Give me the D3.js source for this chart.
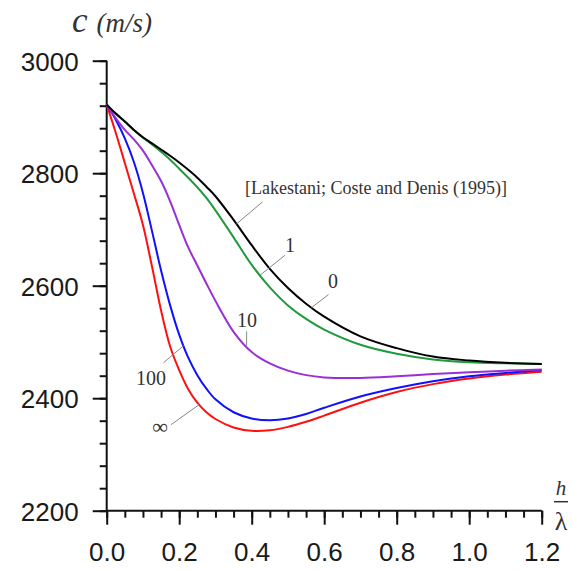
<!DOCTYPE html>
<html>
<head>
<meta charset="utf-8">
<script src="https://cdn.jsdelivr.net/npm/d3@7"></script>
<style>
  html, body { margin: 0; padding: 0; background: #fff; }
  svg { display: block; }
</style>
</head>
<body>
<svg id="chart" width="573" height="570"></svg>
<script>
// ---- data ----
const hGrid     = [0, 0.025, 0.05, 0.075, 0.1, 0.125, 0.15, 0.175, 0.2, 0.225, 0.25, 0.275, 0.3, 0.35, 0.4, 0.45, 0.5, 0.55, 0.6, 0.7, 0.8, 0.9, 1.0, 1.1, 1.2];
const series0   = [2922, 2906, 2892, 2877, 2864, 2853, 2842, 2831, 2819, 2806, 2792, 2776, 2759, 2717, 2672, 2630, 2596, 2568, 2545, 2510, 2489, 2474, 2467, 2463, 2461];
const series1   = [2922, 2906, 2892, 2877, 2863, 2851, 2838, 2824, 2808, 2792, 2775, 2756, 2734, 2686, 2637, 2597, 2565, 2541, 2522, 2495, 2479, 2469, 2464, 2462, 2461];
const series10  = [2922, 2898, 2877, 2860, 2840, 2814, 2786, 2750, 2708, 2668, 2636, 2604, 2573, 2518, 2482, 2462, 2449, 2441, 2437, 2436, 2439, 2443, 2446, 2449, 2451];
const series100 = [2922, 2895, 2862, 2820, 2765, 2697, 2627, 2565, 2513, 2472, 2441, 2417, 2398, 2375, 2364, 2361, 2364, 2372, 2383, 2403, 2418, 2430, 2439, 2445, 2450];
const seriesInf = [2922, 2872, 2818, 2764, 2708, 2634, 2556, 2492, 2450, 2416, 2392, 2375, 2363, 2348, 2342, 2343, 2349, 2358, 2369, 2392, 2411, 2425, 2435, 2442, 2447];
const seriesNames  = ["0", "1", "10", "100", "∞"];
const seriesColors = ["#000000", "#1f9a3c", "#9a2fd6", "#1010ff", "#ff1010"];
const xTickValues = [0, 0.2, 0.4, 0.6, 0.8, 1.0, 1.2];
const yTickValues = [2200, 2400, 2600, 2800, 3000];

const allSeries = [series0, series1, series10, series100, seriesInf];

const svg = d3.select("#chart");
const L = 106.7, R = 541.7, T = 60.7, B = 510.7;

const x = d3.scaleLinear().domain([0, 1.2]).range([L, R]);
const y = d3.scaleLinear().domain([2200, 3000]).range([B, T]);

const tickFont = "'Liberation Sans', Arial, sans-serif";
const serif = "'Liberation Serif', 'Times New Roman', 'DejaVu Serif', serif";

// minor ticks
const gxMinor = svg.append("g").attr("transform", `translate(0,${B})`)
  .call(d3.axisBottom(x).tickValues(d3.range(0, 1.2001, 0.05)).tickSize(7).tickFormat(""));
const gyMinor = svg.append("g").attr("transform", `translate(${L},0)`)
  .call(d3.axisLeft(y).tickValues(d3.range(2200, 3000.1, 40)).tickSize(7).tickFormat(""));

// major axes
const gx = svg.append("g").attr("transform", `translate(0,${B})`)
  .call(d3.axisBottom(x).tickValues(xTickValues).tickSize(14).tickPadding(18).tickFormat(d3.format(".1f")));
const gy = svg.append("g").attr("transform", `translate(${L},0)`)
  .call(d3.axisLeft(y).tickValues(yTickValues).tickSize(14).tickPadding(14).tickFormat(d3.format("d")));

[gxMinor, gyMinor, gx, gy].forEach(g => {
  g.selectAll(".tick line").attr("stroke", "#111").attr("stroke-width", 2);
});
gxMinor.select("path.domain").remove();
gyMinor.select("path.domain").remove();
gx.select("path.domain").attr("d", `M${L},0H${R}`).attr("stroke", "#111").attr("stroke-width", 2);
gy.select("path.domain").attr("d", `M0,${T}V${B}`).attr("stroke", "#111").attr("stroke-width", 2);
[gx, gy].forEach(g => g.selectAll(".tick text")
  .attr("font-family", tickFont).attr("font-size", 26).attr("fill", "#1a1a1a"));
gy.selectAll(".tick text").attr("dy", "0.36em");

// curves
const line = d3.line()
  .x((d, i) => x(hGrid[i]))
  .y(d => y(d))
  .curve(d3.curveCatmullRom.alpha(0.5));

svg.append("g").selectAll("path")
  .data(allSeries.map((s, i) => ({ values: s, color: seriesColors[i] })).reverse())
  .join("path")
  .attr("d", d => line(d.values))
  .attr("fill", "none")
  .attr("stroke", d => d.color)
  .attr("stroke-width", 2);

// annotation leaders & labels (anchor points on curves derived from the data)
function pointOn(series, h) {
  const i = Math.min(d3.bisectRight(hGrid, h) - 1, hGrid.length - 2);
  const t = (h - hGrid[i]) / (hGrid[i + 1] - hGrid[i]);
  return [x(h), y(series[i] + t * (series[i + 1] - series[i]))];
}
const annotations = [
  { text: "[Lakestani; Coste and Denis (1995)]", series: series0, h: 0.358, dx: 26, dy: -22, tx: 245, ty: 194, anchor: "start", size: 18 },
  { text: "1",   series: series1,   h: 0.423, dx: 25, dy: -20, tx: 290, ty: 252, anchor: "middle", size: 20 },
  { text: "0",   series: series0,   h: 0.565, dx: 17, dy: -13, tx: 333, ty: 288, anchor: "middle", size: 20 },
  { text: "10",  series: series10,  h: 0.386, dx: 0,  dy: -15, tx: 247, ty: 327, anchor: "middle", size: 20 },
  { text: "100", series: series100, h: 0.212, dx: -20, dy: 17, tx: 151, ty: 385, anchor: "middle", size: 20 },
  { text: "∞",   series: seriesInf, h: 0.255, dx: -28, dy: 20, tx: 160, ty: 434, anchor: "middle", size: 22 }
];
annotations.forEach(a => {
  const p = pointOn(a.series, a.h);
  svg.append("line")
    .attr("x1", p[0]).attr("y1", p[1])
    .attr("x2", p[0] + a.dx).attr("y2", p[1] + a.dy)
    .attr("stroke", "#888").attr("stroke-width", 1);
  svg.append("text")
    .attr("x", a.tx).attr("y", a.ty)
    .attr("text-anchor", a.anchor)
    .attr("font-family", serif).attr("font-size", a.size)
    .attr("fill", "#333")
    .text(a.text);
});

// y-axis title
const title = svg.append("text").attr("x", 72).attr("y", 32)
  .attr("font-family", serif).attr("font-style", "italic").attr("fill", "#333");
title.append("tspan").attr("font-size", 35).text("c");
title.append("tspan").attr("font-size", 27).attr("dx", 9).text("(m/s)");

// x-axis title as fraction h / λ
svg.append("text").attr("x", 561).attr("y", 495).attr("text-anchor", "middle")
  .attr("font-family", serif).attr("font-style", "italic").attr("font-size", 21).attr("fill", "#333").text("h");
svg.append("line").attr("x1", 554).attr("x2", 568).attr("y1", 501.7).attr("y2", 501.7)
  .attr("stroke", "#333").attr("stroke-width", 1.5);
svg.append("text").attr("x", 561).attr("y", 530).attr("text-anchor", "middle")
  .attr("font-family", serif).attr("font-size", 26).attr("fill", "#333").text("λ");
</script>
</body>
</html>
